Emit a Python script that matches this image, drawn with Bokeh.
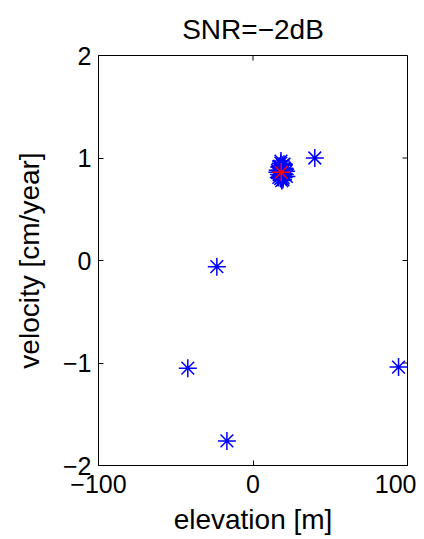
import math
from bokeh.plotting import figure
from bokeh.models import FixedTicker, Range1d
from bokeh.embed import file_html
from bokeh.resources import INLINE

# cluster of estimates near the true value
cluster_x = [18.0, 19.2, 17.1, 20.3, 16.0, 18.8, 21.4, 17.6, 19.9, 16.9, 18.3, 20.6, 17.9,
             19.5, 15.8, 21.6, 18.6, 17.3, 20.1, 19.0, 18.1, 16.7, 20.8, 17.7, 19.4]
cluster_y = [0.95, 0.93, 0.91, 0.90, 0.88, 0.89, 0.87, 0.86, 0.85, 0.84, 0.83, 0.84, 0.80,
             0.81, 0.86, 0.82, 0.78, 0.92, 0.94, 0.87, 0.97, 0.81, 0.89, 0.88, 0.79]
# outlier estimates
outlier_x = [-23.4, -42.2, -16.9, 94.2, 40.0]
outlier_y = [-0.06, -1.05, -1.76, -1.04, 1.0]
# true value
true_x = [18.3]
true_y = [0.86]

title_text = "SNR=\u22122dB"
x_ticks = [-100, 0, 100]
x_labels = ["\u2212100", "0", "100"]
y_ticks = [-2, -1, 0, 1, 2]
y_labels = ["\u22122", "\u22121", "0", "1", "2"]

FONT = "Liberation Sans"
TICK_FS = "25px"
LABEL_FS = "28px"

p = figure(frame_width=309, frame_height=410, output_backend="svg", toolbar_location=None,
           x_range=Range1d(x_ticks[0], x_ticks[-1]), y_range=Range1d(y_ticks[0], y_ticks[-1]),
           min_border_left=98, min_border_right=9, min_border_top=55, min_border_bottom=60,
           title=title_text)
p.title.align = "center"
p.title.text_font = FONT
p.title.text_font_size = LABEL_FS
p.title.text_font_style = "normal"
p.title.text_color = "black"
p.title.standoff = 22

p.grid.visible = False
p.outline_line_color = "black"
p.outline_line_width = 1
p.background_fill_color = "white"
p.border_fill_color = "white"

xa = p.xaxis[0]
xa.ticker = FixedTicker(ticks=x_ticks)
xa.major_label_overrides = dict(zip(x_ticks, x_labels))
xa.axis_label = "elevation [m]"
xa.major_label_standoff = 9
xa.axis_label_standoff = 8

ya = p.yaxis[0]
ya.ticker = FixedTicker(ticks=y_ticks)
ya.major_label_overrides = dict(zip(y_ticks, y_labels))
ya.axis_label = "velocity [cm/year]"
ya.major_label_standoff = 7
ya.axis_label_standoff = 15

for ax in [xa, ya]:
    ax.major_tick_in = 5
    ax.major_tick_out = 0
    ax.minor_tick_line_color = None
    ax.axis_line_color = "black"
    ax.major_tick_line_color = "black"
    ax.major_label_text_font = FONT
    ax.major_label_text_font_size = TICK_FS
    ax.major_label_text_color = "black"
    ax.axis_label_text_font = FONT
    ax.axis_label_text_font_size = LABEL_FS
    ax.axis_label_text_font_style = "normal"
    ax.axis_label_text_color = "black"

# box ticks on top and right edges
p.ray(x=x_ticks, y=[y_ticks[-1]] * len(x_ticks), length=5, length_units="screen",
      angle=-math.pi / 2, line_color="black", line_width=1)
p.ray(x=[x_ticks[-1]] * len(y_ticks), y=y_ticks, length=5, length_units="screen",
      angle=math.pi, line_color="black", line_width=1)

p.scatter(cluster_x, cluster_y, marker="asterisk", size=18, line_color="blue", line_width=1.5)
p.scatter(outlier_x, outlier_y, marker="asterisk", size=18, line_color="blue", line_width=1.5)
p.scatter(true_x, true_y, marker="asterisk", size=18, line_color="red", line_width=1.5)

open("out.html", "w").write(file_html(p, INLINE))
